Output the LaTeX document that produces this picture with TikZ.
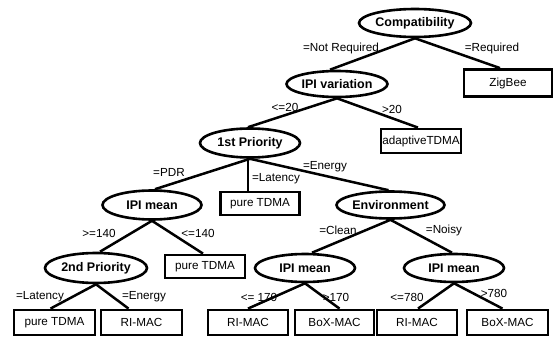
\documentclass[tikz,border=0pt]{standalone}
\usepackage{fontspec}
\setmainfont{Liberation Sans}
\usetikzlibrary{shapes.geometric}
\begin{document}
\begin{tikzpicture}[x=1pt,y=-1pt,
  dec/.style={ellipse,draw,line width=2.6pt,inner sep=0pt,font=\fontsize{12.5}{14}\selectfont\bfseries},
  leaf/.style={rectangle,draw,line width=2.8pt,inner sep=0pt,minimum width=80pt,minimum height=24pt,font=\fontsize{11.7}{13}\selectfont},
  lbl/.style={inner sep=0pt,font=\fontsize{11.7}{13}\selectfont},
  edge/.style={line width=2.5pt}]
\useasboundingbox (0,0) rectangle (555,337);
% decision nodes
\node[dec,minimum width=103pt,minimum height=28pt] (compat) at (415,23) {Compatibility};
\node[dec,minimum width=101pt,minimum height=26pt] (ipivar) at (337,84) {IPI variation};
\node[dec,minimum width=100pt,minimum height=29pt] (first) at (250,143) {1st Priority};
\node[dec,minimum width=99pt,minimum height=29pt] (ipil) at (152,205) {IPI mean};
\node[dec,minimum width=99pt,minimum height=27pt] (env) at (390.5,205) {Environment};
\node[dec,minimum width=102pt,minimum height=30pt] (second) at (96,268) {2nd Priority};
\node[dec,minimum width=100pt,minimum height=28pt] (ipic) at (305,268) {IPI mean};
\node[dec,minimum width=100pt,minimum height=28pt] (ipin) at (454,268) {IPI mean};
% leaves
\node[leaf,minimum width=88pt,minimum height=27pt] (zig) at (508,83) {ZigBee};
\node[leaf] (adapt) at (421,141) {adaptiveTDMA};
\node[leaf,minimum width=79pt,minimum height=23pt] (ptA) at (260,203.5) {pure TDMA};
\node[leaf,minimum height=23pt] (ptB) at (205,266.5) {pure TDMA};
\node[leaf,minimum width=81pt,minimum height=25pt] (ptC) at (54.5,322.5) {pure TDMA};
\node[leaf,minimum width=81pt,minimum height=25pt] (riA) at (141.5,322.5) {RI-MAC};
\node[leaf,minimum height=25pt] (riB) at (248,322.5) {RI-MAC};
\node[leaf,minimum width=79pt,minimum height=25pt] (boxA) at (334.5,322.5) {BoX-MAC};
\node[leaf,minimum height=25pt] (riC) at (417,322.5) {RI-MAC};
\node[leaf,minimum width=81pt,minimum height=25pt] (boxB) at (507.5,322.5) {BoX-MAC};
% edges
\draw[edge] (compat.south) -- ([xshift=-7pt]ipivar.north);
\draw[edge] (compat.south) -- ([xshift=-8pt]zig.north);
\draw[edge] (ipivar.south) -- ([xshift=-2pt]first.north);
\draw[edge] (ipivar.south) -- ([xshift=-3pt]adapt.north);
\draw[edge] (first.south) -- ([xshift=3pt]ipil.north);
\draw[edge] ([xshift=-2pt]first.south) -- ([xshift=-2pt]first.south |- ptA.north);
\draw[edge] (first.south) -- ([xshift=-2pt]env.north);
\draw[edge] (ipil.south) -- ([xshift=4pt]second.north);
\draw[edge] (ipil.south) -- ([xshift=-2pt]ptB.north);
\draw[edge] (second.south) -- ([xshift=-4pt]ptC.north);
\draw[edge] (second.south) -- ([xshift=-13pt]riA.north);
\draw[edge] (env.south) -- ([xshift=7pt]ipic.north);
\draw[edge] (env.south) -- ([xshift=-2pt]ipin.north);
\draw[edge] (ipic.south) -- (riB.north);
\draw[edge] (ipic.south) -- ([xshift=5pt]boxA.north);
\draw[edge] (ipin.south) -- ([xshift=1pt]riC.north);
\draw[edge] (ipin.south) -- ([xshift=-5pt]boxB.north);
% edge labels
\node[lbl] (l1) at (341,48) {=Not Required};
\node[lbl] (l2) at (492,48) {=Required};
\node[lbl] (l3) at (285,107) {<=20};
\node[lbl] (l4) at (392,109) {>20};
\node[lbl] (l5) at (169,172) {=PDR};
\node[lbl] (l6) at (276,179) {=Latency};
\node[lbl] (l7) at (325,167) {=Energy};
\node[lbl] (l8) at (99,233) {>=140};
\node[lbl] (l9) at (198,233) {<=140};
\node[lbl] (l10) at (40,297) {=Latency};
\node[lbl] (l11) at (144,297) {=Energy};
\node[lbl] (l12) at (338,230) {=Clean};
\node[lbl] (l13) at (444,230) {=Noisy};
\node[lbl] (l14) at (259,297) {<= 170};
\node[lbl] (l15) at (336,297) {>170};
\node[lbl] (l16) at (407,297) {<=780};
\node[lbl] (l17) at (494,293) {>780};
\end{tikzpicture}
\end{document}
